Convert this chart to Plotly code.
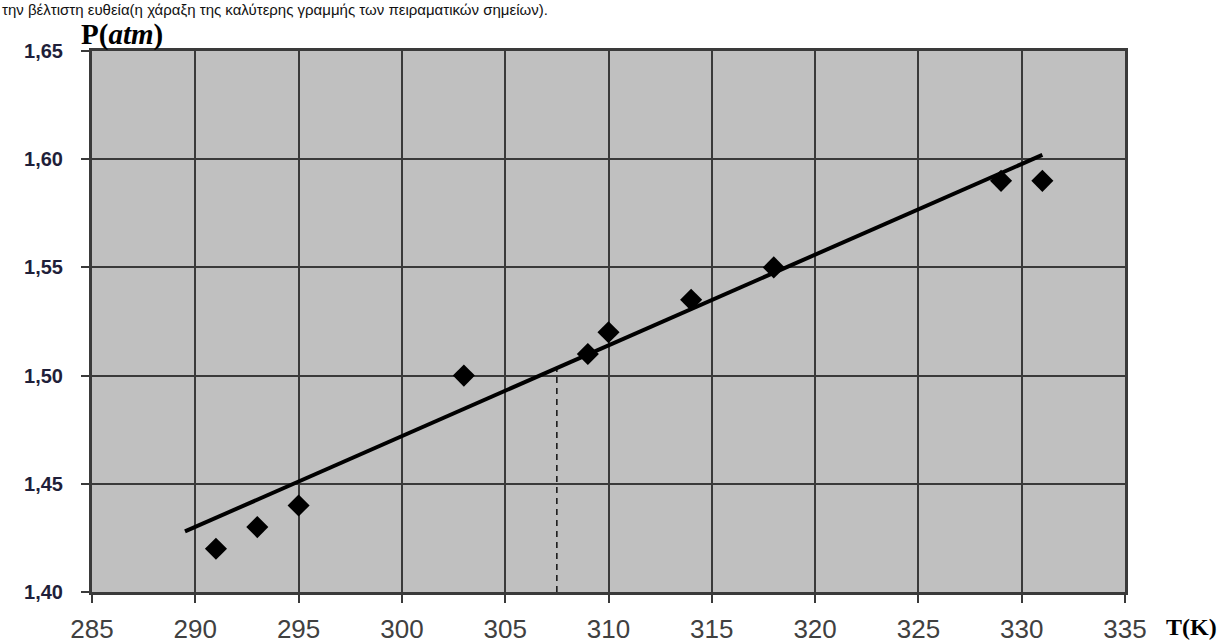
import plotly.graph_objects as go

T = [291, 293, 295, 303, 309, 310, 314, 318, 329, 331]
P = [1.42, 1.43, 1.44, 1.50, 1.51, 1.52, 1.535, 1.55, 1.59, 1.59]
fit_T = [289.5, 331]
fit_P = [1.428, 1.602]
drop_T = [307.5, 307.5]
drop_P = [1.40, 1.503]
x_ticks = [285, 290, 295, 300, 305, 310, 315, 320, 325, 330, 335]
y_ticks = [1.40, 1.45, 1.50, 1.55, 1.60, 1.65]

fig = go.Figure()
fig.add_trace(go.Scatter(x=drop_T, y=drop_P, mode="lines",
                         line=dict(color="#111", width=1.5, dash="6px,5px"), showlegend=False))
fig.add_trace(go.Scatter(x=fit_T, y=fit_P, mode="lines",
                         line=dict(color="#000", width=4), showlegend=False))
fig.add_trace(go.Scatter(x=T, y=P, mode="markers",
                         marker=dict(symbol="diamond", size=17, color="#000"), showlegend=False))

W, H = 1226, 644
L, R, TOP, B = 92, 101, 51, 52
PW, PH = W - L - R, H - TOP - B


def px(x):
    return (x - L) / PW


def py(y):
    return (H - B - y) / PH


fig.update_layout(
    width=W, height=H,
    margin=dict(l=L, r=R, t=TOP, b=B),
    paper_bgcolor="white", plot_bgcolor="#c0c0c0",
    separators=",.",
    xaxis=dict(range=[285, 335], tickvals=x_ticks, showgrid=True, gridcolor="#3a3a3a", gridwidth=2,
               showline=True, linecolor="#3a3a3a", linewidth=3, mirror=True, automargin=False,
               ticks="outside", ticklen=8, tickwidth=2, tickcolor="#3a3a3a",
               ticklabelstandoff=4,
               tickfont=dict(family="Liberation Sans", size=26, color="#404040"), zeroline=False),
    yaxis=dict(range=[1.40, 1.65], tickvals=y_ticks, tickformat=".2f", showgrid=True,
               gridcolor="#3a3a3a", gridwidth=2, automargin=False,
               showline=True, linecolor="#3a3a3a", linewidth=3, mirror=True,
               ticks="outside", ticklen=8, tickwidth=2, tickcolor="#3a3a3a",
               ticklabelstandoff=14,
               tickfont=dict(family="Liberation Sans", size=20, color="#1f1f3a", weight="bold"), zeroline=False),
    annotations=[
        dict(text="την βέλτιστη ευθεία(η χάραξη της καλύτερης γραμμής των πειραματικών σημείων).",
             xref="paper", yref="paper", x=px(1), y=py(0), xanchor="left", yanchor="top",
             showarrow=False, borderpad=0, font=dict(family="Liberation Sans", size=15, color="#111")),
        dict(text="<b>P(<i>atm</i>)</b>", xref="paper", yref="paper", x=px(80), y=py(34),
             xanchor="left", yanchor="middle", showarrow=False, borderpad=0,
             font=dict(family="Liberation Serif", size=29, color="#000")),
        dict(text="<b>T(K)</b>", xref="paper", yref="paper", x=px(1165), y=py(627),
             xanchor="left", yanchor="middle", showarrow=False, borderpad=0,
             font=dict(family="Liberation Serif", size=24, color="#000")),
    ],
)
fig.write_html("out.html", config={"displayModeBar": False},
               post_script="document.body.style.margin='0';")
